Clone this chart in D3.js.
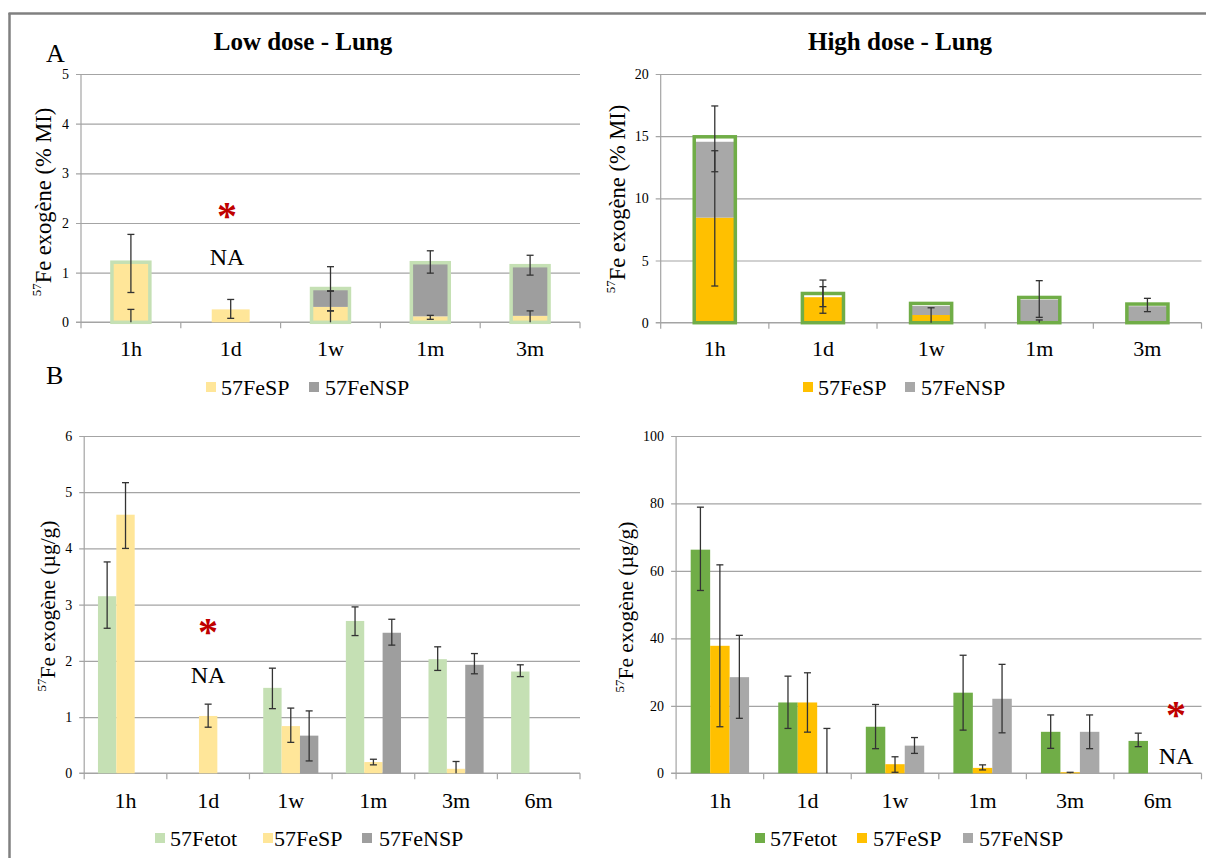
<!DOCTYPE html>
<html><head><meta charset="utf-8">
<script src="https://cdn.jsdelivr.net/npm/d3@7/dist/d3.min.js"></script>
<style>
body{margin:0;background:#fff;}
svg{display:block;}
svg text{font-family:"Liberation Serif","Times New Roman",Times,"DejaVu Serif",serif !important;}
</style>
</head><body>
<svg id="c" width="1206" height="858"></svg>
<script>
// ---------------- DATA ----------------
const catsA = ["1h", "1d", "1w", "1m", "3m"];
const catsB = ["1h", "1d", "1w", "1m", "3m", "6m"];

// Panel A – low dose (% MI), stacked SP + NSP with total outline
const lowA_tot = [1.21, null, 0.68, 1.20, 1.14];
const lowA_SP  = [1.20, 0.26, 0.31, 0.12, 0.13];
const lowA_NSP = [0, 0, 0.34, 1.07, 1.00];
const lowA_err = [[[0.60, 1.77], [0, 0.26]], [[0.08, 0.46]], [[0.63, 1.12], [0.23, 0.63], [0, 0.23]], [[0.99, 1.44], [0.06, 0.14]], [[0.95, 1.35], [0, 0.23]]];

// Panel A – high dose (% MI)
const highA_tot = [14.95, 2.35, 1.55, 2.03, 1.50];
const highA_SP  = [8.45, 2.05, 0.62, 0.03, 0.04];
const highA_NSP = [6.10, 0, 0.72, 1.82, 1.28];
const highA_err = [[[12.14, 17.43], [2.95, 13.83]], [[1.29, 3.43], [0.76, 2.90]], [[0, 1.20]], [[0.43, 3.38], [0, 0.22]], [[0.89, 1.96]]];

// Panel B – low dose (µg/g), grouped
const lowB_tot    = [3.15, null, 1.52, 2.71, 2.03, 1.81];
const lowB_totErr = [[2.58, 3.76], null, [1.15, 1.87], [2.45, 2.96], [1.83, 2.25], [1.72, 1.93]];
const lowB_SP     = [4.60, 1.02, 0.84, 0.20, 0.08, null];
const lowB_SPErr  = [[4.00, 5.17], [0.82, 1.23], [0.55, 1.16], [0.15, 0.25], [0, 0.21], null];
const lowB_NSP    = [null, null, 0.67, 2.50, 1.93, null];
const lowB_NSPErr = [null, null, [0.22, 1.11], [2.28, 2.74], [1.77, 2.13], null];

// Panel B – high dose (µg/g), grouped
const highB_tot    = [66.3, 21.0, 13.8, 23.9, 12.3, 9.6];
const highB_totErr = [[54.2, 78.9], [13.3, 28.8], [7.3, 20.4], [12.8, 35.0], [7.4, 17.3], [7.9, 11.9]];
const highB_SP     = [37.8, 21.0, 2.7, 1.6, 0.3, null];
const highB_SPErr  = [[13.8, 61.8], [12.2, 29.8], [0.3, 4.9], [1.0, 2.5], [0, 0.3], null];
const highB_NSP    = [28.5, 0, 8.2, 22.1, 12.3, null];
const highB_NSPErr = [[16.3, 40.9], [0, 13.3], [5.9, 10.6], [12.0, 32.3], [7.3, 17.3], null];

const ticksLowA = [0, 1, 2, 3, 4, 5];
const ticksHighA = [0, 5, 10, 15, 20];
const ticksLowB = [0, 1, 2, 3, 4, 5, 6];
const ticksHighB = [0, 20, 40, 60, 80, 100];

const seriesNames = ["57Fetot", "57FeSP", "57FeNSP"];

// ---------------- DRAWING ----------------
const FONT = '"Liberation Serif","Times New Roman",Times,"DejaVu Serif",serif';
const svg = d3.select("#c").attr("font-family", FONT);
const GRID = "#a4a4a4", ERR = "#333333";

// outer frame
svg.append("line").attr("x1", 8.5).attr("x2", 1206).attr("y1", 13.5).attr("y2", 13.5)
  .attr("stroke", "#808080").attr("stroke-width", 2.5);
svg.append("line").attr("x1", 9.5).attr("x2", 9.5).attr("y1", 13).attr("y2", 858)
  .attr("stroke", "#808080").attr("stroke-width", 2.5);

function frame(cfg) {
  const g = svg.append("g");
  const x = d3.scaleBand().domain(cfg.cats).range([cfg.xL, cfg.xR]).padding(0);
  const y = d3.scaleLinear().domain([0, cfg.max]).range([cfg.y0, cfg.yTop]);
  // gridlines
  g.append("g").attr("transform", `translate(${cfg.xL},0)`)
    .call(d3.axisLeft(y).tickValues(cfg.ticks.filter(d => d > 0)).tickSize(0).tickFormat(""))
    .call(s => s.select(".domain").remove())
    .call(s => s.selectAll(".tick line").attr("x1", -5).attr("x2", cfg.xR - cfg.xL)
      .attr("stroke", GRID).attr("stroke-width", 1.2));
  // y axis line
  g.append("line").attr("x1", cfg.xL).attr("x2", cfg.xL).attr("y1", cfg.y0).attr("y2", cfg.yTop)
    .attr("stroke", GRID).attr("stroke-width", 1.2);
  // y tick labels
  g.append("g").attr("transform", `translate(${cfg.xL},0)`)
    .call(d3.axisLeft(y).tickValues(cfg.ticks).tickFormat(d3.format("d")).tickSize(0).tickPadding(12))
    .attr("font-family", FONT)
    .call(s => s.select(".domain").remove())
    .call(s => s.selectAll("text").attr("font-size", 14).attr("fill", "#000"));
  // x axis line + category separators
  g.append("line").attr("x1", cfg.xL - 5).attr("x2", cfg.xR).attr("y1", cfg.y0).attr("y2", cfg.y0)
    .attr("stroke", GRID).attr("stroke-width", 1.4);
  const edges = cfg.cats.map(c => x(c)).concat([cfg.xR]);
  g.selectAll(".sep").data(edges).join("line")
    .attr("x1", d => d).attr("x2", d => d).attr("y1", cfg.y0).attr("y2", cfg.y0 + 6)
    .attr("stroke", GRID).attr("stroke-width", 1.2);
  // category labels
  g.append("g").attr("transform", `translate(0,${cfg.y0})`)
    .call(d3.axisBottom(x).tickSize(0))
    .attr("font-family", FONT)
    .call(s => s.select(".domain").remove())
    .call(s => s.selectAll("text").attr("y", cfg.labelDy).attr("dy", "0.35em")
      .attr("font-size", 22).attr("fill", "#000"));
  // y title
  const t = g.append("text").attr("transform", `translate(${cfg.titleX},${cfg.titleY}) rotate(-90)`)
    .attr("text-anchor", "middle").attr("dominant-baseline", "central").attr("font-size", cfg.titleSize);
  t.append("tspan").attr("font-size", 13).attr("dy", -7).text("57");
  t.append("tspan").attr("dy", 7).text(cfg.yTitle);
  return { g, x, y };
}

function errBar(g, cx, y, lo, hi) {
  g.append("line").attr("x1", cx).attr("x2", cx).attr("y1", y(lo)).attr("y2", y(hi))
    .attr("stroke", ERR).attr("stroke-width", 1.3);
  const caps = lo > 0 ? [lo, hi] : [hi];
  caps.forEach(v => g.append("line").attr("x1", cx - 3.5).attr("x2", cx + 3.5)
    .attr("y1", y(v)).attr("y2", y(v)).attr("stroke", ERR).attr("stroke-width", 1.3));
}

function stacked(cfg, tot, sp, nsp, errs, colSP, colNSP, colTot) {
  const { g, x, y } = frame(cfg);
  const bw = x.bandwidth() * 0.38;
  const cx = c => x(c) + x.bandwidth() / 2;
  cfg.cats.forEach((c, i) => {
    if (sp[i] > 0) g.append("rect").attr("x", cx(c) - bw / 2).attr("width", bw)
      .attr("y", y(sp[i])).attr("height", y(0) - y(sp[i])).attr("fill", colSP);
    if (nsp[i] > 0) g.append("rect").attr("x", cx(c) - bw / 2).attr("width", bw)
      .attr("y", y(sp[i] + nsp[i])).attr("height", y(sp[i]) - y(sp[i] + nsp[i])).attr("fill", colNSP);
    if (tot[i] != null) g.append("rect").attr("x", cx(c) - bw / 2).attr("width", bw)
      .attr("y", y(tot[i])).attr("height", y(0) - y(tot[i])).attr("fill", "none")
      .attr("stroke", colTot).attr("stroke-width", 3.5);
  });
  cfg.cats.forEach((c, i) => errs[i].forEach(e => errBar(g, cx(c), y, e[0], e[1])));
  return { g, x, y };
}

function grouped(cfg, vals, errs, cols) {
  const { g, x, y } = frame(cfg);
  const xs = d3.scaleBand().domain(d3.range(vals.length))
    .range([0, x.bandwidth() * 0.667]).padding(0);
  const off = x.bandwidth() * (1 - 0.667) / 2;
  cfg.cats.forEach((c, i) => {
    vals.forEach((arr, k) => {
      const v = arr[i];
      if (v == null) return;
      const bx = x(c) + off + xs(k);
      if (v > 0) g.append("rect").attr("x", bx).attr("width", xs.bandwidth())
        .attr("y", y(v)).attr("height", y(0) - y(v)).attr("fill", cols[k]);
    });
  });
  cfg.cats.forEach((c, i) => {
    errs.forEach((arr, k) => {
      const e = arr[i];
      if (!e) return;
      errBar(g, x(c) + off + xs(k) + xs.bandwidth() / 2, y, e[0], e[1]);
    });
  });
  return { g, x, y };
}

function legend(items, cy) {
  items.forEach(it => {
    svg.append("rect").attr("x", it.sx).attr("y", cy - 5).attr("width", 10).attr("height", 10).attr("fill", it.col);
    svg.append("text").attr("x", it.tx).attr("y", cy).attr("dominant-baseline", "central")
      .attr("font-size", 22).text(it.name);
  });
}

function mark(x, yStar, yNA) {
  svg.append("text").attr("x", x).attr("y", yStar).attr("text-anchor", "middle")
    .attr("font-size", 40).attr("font-weight", "bold").attr("fill", "#c00000").text("*");
  svg.append("text").attr("x", x).attr("y", yNA).attr("text-anchor", "middle").attr("dominant-baseline", "central")
    .attr("font-size", 24).text("NA");
}

// colors
const C_TOT_L = "#c5e0b4", C_SP_L = "#ffe699", C_NSP_L = "#9e9e9e";
const C_TOT_H = "#70ad47", C_SP_H = "#ffc000", C_NSP_H = "#a8a8a8";

// Panel A low
stacked({ cats: catsA, xL: 81, xR: 580, y0: 322.3, yTop: 74, max: 5, ticks: ticksLowA, labelDy: 26,
  titleX: 43, titleY: 202, titleSize: 22.5, yTitle: "Fe exogène (% MI)" }, lowA_tot, lowA_SP, lowA_NSP, lowA_err, C_SP_L, C_NSP_L, C_TOT_L);
// Panel A high
stacked({ cats: catsA, xL: 660.7, xR: 1201.5, y0: 322.7, yTop: 74, max: 20, ticks: ticksHighA, labelDy: 26,
  titleX: 617, titleY: 199, titleSize: 22.5, yTitle: "Fe exogène (% MI)" }, highA_tot, highA_SP, highA_NSP, highA_err, C_SP_H, C_NSP_H, C_TOT_H);
// Panel B low
grouped({ cats: catsB, xL: 84.2, xR: 580, y0: 773.3, yTop: 436, max: 6, ticks: ticksLowB, labelDy: 27,
  titleX: 48, titleY: 606, titleSize: 21.5, yTitle: "Fe exogène (µg/g)" },
  [lowB_tot, lowB_SP, lowB_NSP], [lowB_totErr, lowB_SPErr, lowB_NSPErr], [C_TOT_L, C_SP_L, C_NSP_L]);
// Panel B high
grouped({ cats: catsB, xL: 676.1, xR: 1201.5, y0: 773.3, yTop: 436, max: 100, ticks: ticksHighB, labelDy: 27,
  titleX: 626, titleY: 607, titleSize: 21.5, yTitle: "Fe exogène (µg/g)" },
  [highB_tot, highB_SP, highB_NSP], [highB_totErr, highB_SPErr, highB_NSPErr], [C_TOT_H, C_SP_H, C_NSP_H]);

// titles and panel letters
svg.append("text").attr("x", 303).attr("y", 50).attr("text-anchor", "middle").attr("font-size", 25)
  .attr("font-weight", "bold").text("Low dose - Lung");
svg.append("text").attr("x", 900).attr("y", 50).attr("text-anchor", "middle").attr("font-size", 25)
  .attr("font-weight", "bold").text("High dose - Lung");
svg.append("text").attr("x", 46).attr("y", 62).attr("font-size", 26).text("A");
svg.append("text").attr("x", 46).attr("y", 384).attr("font-size", 26).text("B");

// NA markers
mark(227, 229, 257);
mark(208, 645, 675);
mark(1176, 728, 756);

// legends
legend([{ sx: 206, tx: 221, col: C_SP_L, name: seriesNames[1] }, { sx: 309, tx: 325, col: C_NSP_L, name: seriesNames[2] }], 387);
legend([{ sx: 803, tx: 818, col: C_SP_H, name: seriesNames[1] }, { sx: 905, tx: 921, col: C_NSP_H, name: seriesNames[2] }], 387);
legend([{ sx: 155, tx: 170, col: C_TOT_L, name: seriesNames[0] }, { sx: 263, tx: 274, col: C_SP_L, name: seriesNames[1] },
  { sx: 362, tx: 379, col: C_NSP_L, name: seriesNames[2] }], 838);
legend([{ sx: 755, tx: 770, col: C_TOT_H, name: seriesNames[0] }, { sx: 857, tx: 873, col: C_SP_H, name: seriesNames[1] },
  { sx: 963, tx: 979, col: C_NSP_H, name: seriesNames[2] }], 838);
</script>
</body></html>
